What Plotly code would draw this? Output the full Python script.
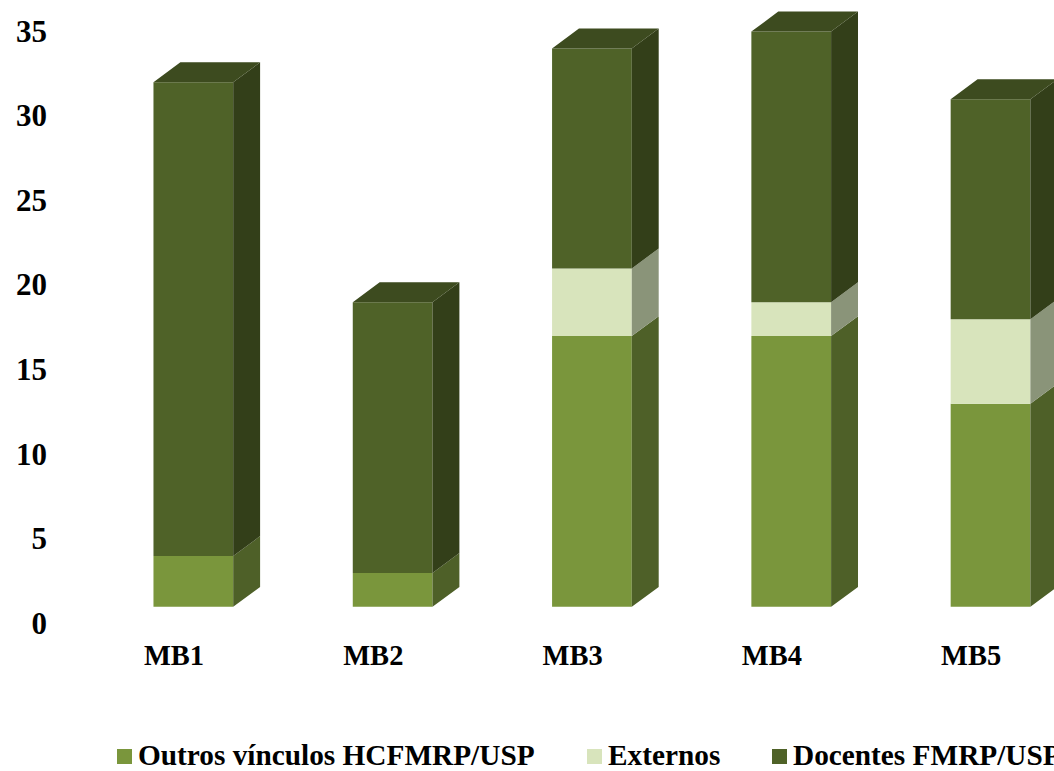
import plotly.graph_objects as go

# Group labels and stacked series values
groups = ["MB1", "MB2", "MB3", "MB4", "MB5"]
outros = [3, 2, 16, 16, 12]
externos = [0, 0, 4, 2, 5]
docentes = [28, 16, 13, 16, 13]
y_ticks = [0, 5, 10, 15, 20, 25, 30, 35]

# Series styling: front face and shaded side face
series = [
    ("Outros vínculos HCFMRP/USP", outros, "#7A963C", "#4E6028"),
    ("Externos", externos, "#D8E4BC", "#8A9479"),
    ("Docentes FMRP/USP", docentes, "#4F6228", "#333F19"),
]
TOP_COLOR = "#3D4B1F"

# Geometry of the pseudo-3D columns, in axis units
FLOOR = 0.955
BAR_SHIFT = 0.097
BAR_WIDTH = 0.4
DEPTH_X = 0.135
DEPTH_Y = 1.18

FONT = "Liberation Serif"
LEGEND_SIZE = 29.3
Y_TICK_SIZE = 31
X_TICK_SIZE = 28.5

W, H = 1054, 771
LEFT, RIGHT, TOP, BOTTOM = 60, 0, 0, 136
UNIT_Y = 16.92
UNIT_X = 199.3
plot_w = W - LEFT - RIGHT
plot_h = H - TOP - BOTTOM


def paper_x(px_val):
    return (px_val - LEFT) / plot_w


def paper_y(px_val):
    return 1 - (px_val - TOP) / plot_h


fig = go.Figure()
xs = [i + BAR_SHIFT for i in range(len(groups))]
bases = [FLOOR] * len(groups)

for name, values, front, side in series:
    fig.add_bar(
        x=xs, y=values, base=list(bases), width=BAR_WIDTH, name=name,
        marker=dict(color=front, line=dict(width=0)), showlegend=False,
    )
    # Side faces as a single filled trace, one parallelogram per column
    px, py = [], []
    for x, b, v in zip(xs, bases, values):
        if v == 0:
            continue
        r = x + BAR_WIDTH / 2
        px += [r, r + DEPTH_X, r + DEPTH_X, r, r, None]
        py += [b, b + DEPTH_Y, b + v + DEPTH_Y, b + v, b, None]
    fig.add_scatter(x=px, y=py, mode="none", fill="toself", fillcolor=side,
                    hoverinfo="skip", showlegend=False)
    bases = [b + v for b, v in zip(bases, values)]

# Top faces on the full stack height
px, py = [], []
for x, t in zip(xs, bases):
    l, r = x - BAR_WIDTH / 2, x + BAR_WIDTH / 2
    px += [l, l + DEPTH_X, r + DEPTH_X, r, l, None]
    py += [t, t + DEPTH_Y, t + DEPTH_Y, t, t, None]
fig.add_scatter(x=px, y=py, mode="none", fill="toself", fillcolor=TOP_COLOR,
                hoverinfo="skip", showlegend=False)

# Legend row, laid out by hand so it can run off the right edge
legend_items = [(117, 138, 0), (587, 608, 1), (772, 793, 2)]
for swatch_x, text_x, k in legend_items:
    fig.add_shape(type="rect", xref="paper", yref="paper",
                  x0=paper_x(swatch_x), x1=paper_x(swatch_x + 15),
                  y0=paper_y(764), y1=paper_y(749), line_width=0,
                  fillcolor=series[k][2])
    fig.add_annotation(xref="paper", yref="paper", x=paper_x(text_x), y=paper_y(755),
                       xanchor="left", yanchor="middle", showarrow=False,
                       text=f"<b>{series[k][0]}</b>", xshift=-2,
                       font=dict(family=FONT, size=LEGEND_SIZE, color="#000000"))

fig.update_layout(
    width=W, height=H, barmode="overlay", paper_bgcolor="white", plot_bgcolor="white",
    margin=dict(l=LEFT, r=RIGHT, t=TOP, b=BOTTOM, autoexpand=False),
    font=dict(family=FONT, size=LEGEND_SIZE, color="#000000"),
    xaxis=dict(
        range=[(LEFT - 174) / UNIT_X, (W - 174) / UNIT_X],
        tickvals=list(range(len(groups))), ticktext=[f"<b>{g}</b>" for g in groups],
        tickfont=dict(family=FONT, size=X_TICK_SIZE, color="#000000"),
        showgrid=False, zeroline=False, showline=False, ticks="",
    ),
    yaxis=dict(
        range=[(623 - (H - BOTTOM)) / UNIT_Y, 623 / UNIT_Y],
        tickvals=y_ticks, ticktext=[f"<b>{t}</b>" for t in y_ticks],
        tickfont=dict(family=FONT, size=Y_TICK_SIZE, color="#000000"),
        ticklabelstandoff=12,
        showgrid=False, zeroline=False, showline=False, ticks="",
    ),
)

fig.write_html("out.html")
